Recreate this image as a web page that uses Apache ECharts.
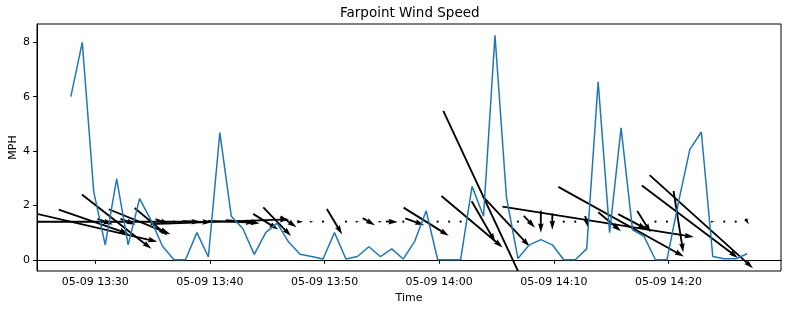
<!DOCTYPE html>
<html>
<head>
<meta charset="utf-8">
<script src="https://cdn.jsdelivr.net/npm/echarts@6/dist/echarts.min.js"></script>
<style>html,body{margin:0;padding:0;background:#fff}#c{width:789px;height:311px}</style>
</head>
<body>
<div id="c"></div>
<script>
// ---- data ----
const times = ["13:27:52","13:28:52","13:29:52","13:30:52","13:31:52","13:32:52","13:33:52","13:34:52","13:35:52","13:36:52",
"13:37:52","13:38:52","13:39:52","13:40:52","13:41:52","13:42:52","13:43:52","13:44:52","13:45:52","13:46:52",
"13:47:52","13:48:52","13:49:52","13:50:52","13:51:52","13:52:52","13:53:52","13:54:52","13:55:52","13:56:52",
"13:57:52","13:58:52","13:59:52","14:00:52","14:01:52","14:02:52","14:03:52","14:04:52","14:05:52","14:06:52",
"14:07:52","14:08:52","14:09:52","14:10:52","14:11:52","14:12:52","14:13:52","14:14:52","14:15:52","14:16:52",
"14:17:52","14:18:52","14:19:52","14:20:52","14:21:52","14:22:52","14:23:52","14:24:52","14:25:52","14:26:52"];
const speedMph = [6.0,8.0,2.5,0.55,2.98,0.55,2.25,1.45,0.5,0.0,
0.0,1.0,0.1,4.68,1.6,1.15,0.2,1.0,1.35,0.65,
0.2,0.12,0.03,1.0,0.03,0.12,0.48,0.12,0.4,0.03,
0.68,1.8,0.0,0.0,0.0,2.7,1.6,8.26,2.3,0.05,
0.55,0.74,0.55,0.0,0.0,0.4,6.55,1.0,4.85,1.1,
0.86,0.0,0.0,2.1,4.06,4.7,0.12,0.04,0.04,0.22];
// direction the arrow points to (compass degrees, 0 = up, 90 = right)
const arrowDirDeg = [103,90,109,110,128,110,112,130,110,90,
90,92,90,88,92,95,120,122,136,125,
90,90,90,149,90,90,120,90,92,90,
110,122,90,90,90,130,150,155,137,90,
137,180,180,90,90,165,99,130,119,118,
148,90,90,171,127,132,90,90,90,150];
const quiverY = 1.4;
const xTickLabels = ["13:30","13:40","13:50","14:00","14:10","14:20"];
const yTickLabels = [0,2,4,6,8];
const dateStr = "05-09";

// ---- helpers ----
function toMs(hms){const p=hms.split(':').map(Number);return Date.UTC(2023,4,9,p[0],p[1],p[2]||0);}
const tMs = times.map(toMs);
const tMin = Math.min(...tMs), tMax = Math.max(...tMs);
const xPad = 0.05*(tMax-tMin);
const yMinD = Math.min(0,...speedMph), yMaxD = Math.max(...speedMph);
const yPad = 0.05*(yMaxD-yMinD);
const pad2 = n => (n<10?'0':'')+n;
function fmt(v){const d=new Date(v);return dateStr+' '+pad2(d.getUTCHours())+':'+pad2(d.getUTCMinutes());}

const FONT = 'DejaVu Sans';
const PX_PER_MPH = 29.6;
const SW = 1.86, HW = 5.6, HL = 9.3, HAL = 8.4;

function renderArrow(params, api){
  const c = api.coord([api.value(0), api.value(3)]);
  const L = api.value(1)*PX_PER_MPH;
  const th = api.value(2)*Math.PI/180;
  const ux = Math.sin(th), uy = -Math.cos(th);
  const nx = -uy, ny = ux;
  if (L < 1.6) {
    return {type:'circle', shape:{cx:c[0], cy:c[1], r:1.1}, style:{fill:'#000'}};
  }
  const Lp = Math.max(L, HL);
  const s = L/Lp;
  const tx = c[0]-ux*L/2, ty = c[1]-uy*L/2;
  const loc = [[0,-SW/2],[Lp-HAL,-SW/2],[Lp-HL,-HW/2],[Lp,0],[Lp-HL,HW/2],[Lp-HAL,SW/2],[0,SW/2]];
  const pts = loc.map(p=>[tx+(p[0]*ux+p[1]*nx)*s, ty+(p[0]*uy+p[1]*ny)*s]);
  return {type:'polygon', shape:{points:pts}, style:{fill:'#000', stroke:null}};
}

const chart = echarts.init(document.getElementById('c'), null, {renderer:'canvas'});
chart.setOption({
  animation:false,
  backgroundColor:'#fff',
  title:{text:'Farpoint Wind Speed', left:340, top:6, padding:0,
    textStyle:{fontFamily:FONT, fontSize:13.5, fontWeight:'normal', color:'#000'}},
  grid:{left:37, right:8, top:24, bottom:40, show:true, borderColor:'#000', borderWidth:1,
    backgroundColor:'transparent', containLabel:false, outerBoundsMode:'none'},
  xAxis:{type:'value', min:tMin-xPad, max:tMax+xPad, name:'Time', nameLocation:'middle', nameGap:22,
    nameMoveOverlap:false,
    nameTextStyle:{fontFamily:FONT, fontSize:11, color:'#000'},
    axisLine:{show:true, lineStyle:{color:'#000', width:1}},
    axisTick:{show:true, length:4, lineStyle:{color:'#000'}, customValues:xTickLabels.map(toMs)},
    axisLabel:{fontFamily:FONT, fontSize:11, color:'#000', margin:6, formatter:fmt, customValues:xTickLabels.map(toMs)},
    splitLine:{show:false}},
  yAxis:{type:'value', min:yMinD-yPad, max:yMaxD+yPad, name:'MPH', nameLocation:'middle', nameGap:18,
    nameMoveOverlap:false,
    nameTextStyle:{fontFamily:FONT, fontSize:11, color:'#000'},
    axisLine:{show:true, lineStyle:{color:'#000', width:1}},
    axisTick:{show:true, length:4, lineStyle:{color:'#000'}, customValues:yTickLabels},
    axisLabel:{fontFamily:FONT, fontSize:11, color:'#000', margin:7, customValues:yTickLabels},
    splitLine:{show:false}},
  series:[
    {type:'custom', z:2, clip:true, renderItem:renderArrow,
      data: tMs.map((t,i)=>[t, speedMph[i], arrowDirDeg[i], quiverY]), silent:true},
    {type:'line', z:3, showSymbol:false, symbol:'none', clip:true,
      lineStyle:{color:'#1f77b4', width:1.5}, itemStyle:{color:'#1f77b4'},
      data: tMs.map((t,i)=>[t, speedMph[i]])}
  ]
});
</script>
</body>
</html>
